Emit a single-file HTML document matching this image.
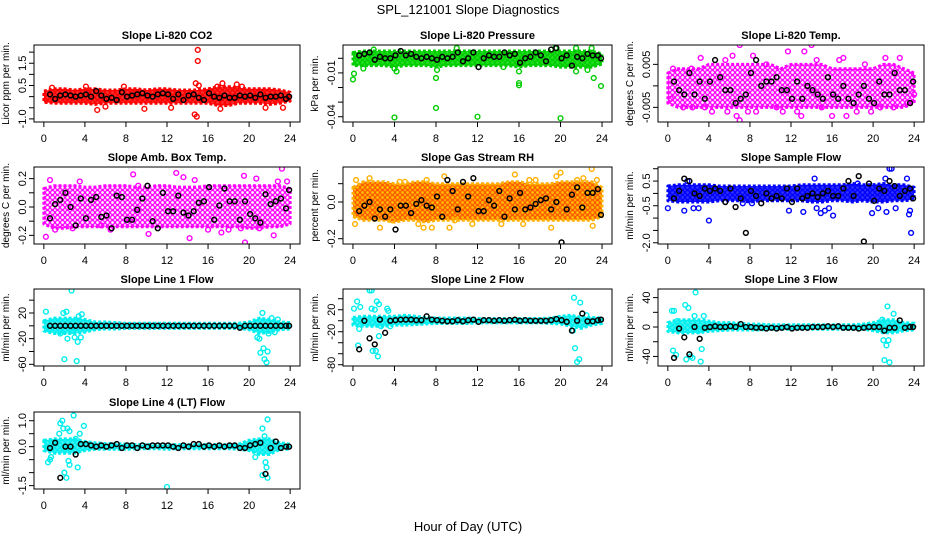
<!DOCTYPE html>
<html><head><meta charset="utf-8"><style>
html,body{margin:0;padding:0;background:#fff;}
svg{display:block;font-family:"Liberation Sans",Arial,sans-serif;}
</style></head><body>
<svg id="chart" width="936" height="540" viewBox="0 0 936 540" xmlns="http://www.w3.org/2000/svg">
<defs id="defs"></defs>
<text x="468" y="14" text-anchor="middle" font-size="13">SPL_121001  Slope Diagnostics</text>
<text x="468" y="531" text-anchor="middle" font-size="13">Hour of Day (UTC)</text>
</svg>
<script>
const xTicks=[0,4,8,12,16,20,24];
const blackHours=[0.6,1.1,1.6,2.1,2.6,3.1,3.6,4.1,4.6,5.1,5.6,6.1,6.6,7.1,7.6,8.1,8.6,9.1,9.6,10.1,10.6,11.1,11.6,12.1,12.6,13.1,13.6,14.1,14.6,15.1,15.6,16.1,16.6,17.1,17.6,18.1,18.6,19.1,19.6,20.1,20.6,21.1,21.6,22.1,22.6,23.1,23.6,23.9];
const bandHours=[0,1,2,3,4,5,6,7,8,9,10,11,12,13,14,15,16,17,18,19,20,21,22,23,24];

// Panel 1: CO2
const co2Lo=[-0.25,-0.3,-0.3,-0.3,-0.3,-0.35,-0.3,-0.3,-0.3,-0.3,-0.3,-0.3,-0.3,-0.3,-0.3,-0.3,-0.3,-0.4,-0.4,-0.3,-0.3,-0.3,-0.35,-0.3,-0.2];
const co2Hi=[0.25,0.35,0.35,0.3,0.35,0.35,0.3,0.3,0.35,0.35,0.3,0.35,0.35,0.3,0.3,0.3,0.35,0.45,0.45,0.4,0.35,0.35,0.35,0.3,0.2];
const co2Pts=[[15,2.1],[15,1.6],[14.8,0.6],[15.1,0.5],[14.7,-0.8],[14.9,-0.9],[4.1,0.45],[5.2,-0.6],[17.2,-0.55],[17.4,0.6],[18.8,0.55],[0.8,0.4],[12.4,-0.5],[9.8,-0.55],[21.6,-0.5],[23.3,-0.5],[7.8,0.45],[16.9,0.45],[6,-0.45],[19.3,0.45]];
const co2Blk=[0.1,-0.1,0.05,0.1,0.05,0,0.05,0.1,0,0.25,0.05,-0.1,-0.05,-0.15,0.2,0,0.05,0.1,0.15,0.05,0,0.1,0.15,0.1,-0.1,0.1,-0.15,0.05,0.1,-0.05,-0.15,0.15,0,-0.05,0.05,-0.05,-0.05,0.05,0,0.05,-0.05,0.1,-0.05,0,0,0.05,-0.1,0];

// Panel 2: Pressure
const presLo=[-0.005,-0.005,-0.005,-0.005,-0.006,-0.005,-0.005,-0.005,-0.006,-0.005,-0.005,-0.005,-0.005,-0.005,-0.005,-0.005,-0.006,-0.005,-0.005,-0.005,-0.006,-0.006,-0.006,-0.006,-0.004];
const presHi=[0.004,0.005,0.005,0.005,0.005,0.005,0.005,0.005,0.005,0.005,0.005,0.005,0.005,0.005,0.005,0.005,0.005,0.005,0.005,0.005,0.005,0.005,0.005,0.005,0.003];
const presPts=[[0,-0.0145],[0.1,-0.0105],[4,-0.0405],[4,-0.007],[4.2,-0.009],[8,-0.034],[8,-0.0135],[8.1,-0.008],[12,-0.04],[16,-0.017],[16,-0.0185],[16,-0.009],[20,-0.041],[23.2,-0.0135],[23.9,-0.019],[21.5,-0.009],[22.6,-0.008],[10,0.007],[19.5,0.007],[21.5,0.007],[23,0.007],[2,0.006],[1,-0.007],[14.5,-0.006]];
const presBlk=[0.002,0.003,0.004,-0.001,0.001,0,0,0.002,0.005,0.002,0.003,0.001,0,0.001,0,-0.001,0.001,0,0.001,0.004,-0.002,0,0.004,-0.006,0,0.002,0.001,0.001,0.004,0.002,0.003,-0.003,0,0.001,0.004,0.002,-0.002,0.006,0.007,0,0.002,-0.005,0.001,0,0.003,0.002,0.002,0];

// Panel 3: Li-820 Temp
const ltLo=[-0.004,-0.005,-0.005,-0.005,-0.005,-0.005,-0.005,-0.005,-0.005,-0.005,-0.005,-0.005,-0.005,-0.005,-0.005,-0.005,-0.005,-0.005,-0.005,-0.005,-0.005,-0.005,-0.005,-0.005,-0.004];
const ltHi=[0.003,0.004,0.004,0.004,0.005,0.005,0.005,0.005,0.005,0.005,0.005,0.004,0.005,0.005,0.005,0.005,0.004,0.004,0.004,0.004,0.004,0.005,0.005,0.004,0.003];
const ltPts=[[0.3,-0.003],[0.5,0.004],[1.5,-0.005],[2.3,0.004],[2.4,-0.005],[3.2,0.0065],[3.6,-0.005],[4.3,-0.006],[5.6,0.006],[5.8,-0.006],[6.3,0.007],[6.7,-0.007],[7,0.0095],[7,-0.008],[7.8,-0.006],[8.3,0.007],[8.6,-0.006],[9.6,0.005],[10.6,-0.005],[11.2,-0.006],[11.7,0.008],[12.6,-0.006],[13,-0.007],[13.3,0.008],[14,0.0095],[14.5,0.006],[15,-0.005],[16,-0.007],[16.7,0.006],[17.1,0.0065],[17.4,-0.007],[18.4,-0.006],[19.2,0.005],[19.8,-0.006],[20.7,-0.005],[21.2,0.0065],[22,-0.005],[22.6,0.0065],[23.3,-0.004],[24,-0.002]];
const ltBlk=[0.001,-0.001,-0.002,0.003,-0.002,0.001,-0.003,0.001,0.006,0.002,-0.001,-0.001,-0.004,-0.003,-0.002,0.003,0.006,0,0.001,0.001,0.002,-0.001,-0.001,-0.003,0.001,-0.003,0,-0.001,-0.002,-0.003,0.002,-0.002,-0.003,0,-0.003,-0.004,-0.002,0,-0.003,-0.004,0.001,-0.002,-0.002,0.003,-0.001,-0.001,-0.004,0.001];

// Panel 4: Amb Box Temp
const abLo=[-0.12,-0.15,-0.15,-0.14,-0.14,-0.14,-0.14,-0.14,-0.14,-0.14,-0.14,-0.14,-0.14,-0.14,-0.14,-0.14,-0.14,-0.14,-0.14,-0.14,-0.15,-0.15,-0.14,-0.14,-0.12];
const abHi=[0.13,0.15,0.15,0.15,0.14,0.14,0.15,0.15,0.15,0.14,0.14,0.15,0.15,0.14,0.14,0.14,0.15,0.15,0.15,0.15,0.15,0.15,0.15,0.15,0.13];
const abPts=[[0.2,-0.21],[0.6,0.19],[3.5,0.18],[5.6,-0.13],[6.5,-0.16],[8.7,0.23],[10.2,-0.19],[12.9,0.24],[13.6,0.21],[14.2,-0.22],[14.7,0.19],[17.3,-0.18],[18,-0.16],[19.2,-0.15],[19.5,0.22],[19.6,-0.25],[20.7,0.2],[21,-0.15],[22.4,-0.2],[22.8,0.18],[23.2,0.27],[23.7,0.18],[1.1,-0.16],[2.8,-0.15],[9.2,0.15],[16,-0.16]];
const abBlk=[-0.08,0.02,0.05,0.1,0,-0.13,0.06,-0.08,0.05,0.07,-0.07,-0.06,-0.15,0.08,0.07,-0.09,-0.09,-0.02,0.06,0.15,-0.1,-0.15,0.1,-0.03,-0.03,0.08,-0.04,-0.06,-0.03,0.03,0.04,0.14,-0.09,0.01,0.13,0.04,0.04,-0.09,0.04,-0.05,-0.08,-0.11,0.09,0.02,0.04,0.06,-0.01,0.12];

// Panel 5: Gas Stream RH
const rhLo=[-0.08,-0.1,-0.1,-0.1,-0.11,-0.1,-0.1,-0.11,-0.1,-0.1,-0.1,-0.1,-0.1,-0.1,-0.1,-0.1,-0.1,-0.1,-0.1,-0.1,-0.1,-0.1,-0.1,-0.1,-0.08];
const rhHi=[0.08,0.11,0.11,0.11,0.1,0.1,0.11,0.11,0.1,0.1,0.1,0.1,0.1,0.1,0.1,0.11,0.11,0.1,0.1,0.1,0.11,0.11,0.11,0.11,0.08];
const rhPts=[[0.3,0.12],[0.2,-0.12],[1.6,0.13],[2.6,-0.14],[3.8,-0.1],[4.5,0.11],[5,0.11],[6.3,-0.12],[6.8,-0.14],[7.1,0.12],[7.6,-0.14],[8.8,0.14],[9.3,-0.14],[9.8,-0.1],[11.5,-0.12],[14.3,-0.12],[15.6,0.15],[16.4,-0.12],[17,0.12],[17.6,0.12],[19.1,-0.14],[19.6,0.14],[20,0.16],[21.6,0.12],[22.2,0.13],[23,0.18],[23.1,-0.13],[23.5,0.12]];
const rhBlk=[-0.05,-0.02,0,-0.09,-0.04,-0.08,-0.04,-0.15,-0.02,-0.02,-0.06,-0.01,0.01,-0.02,-0.03,0.03,-0.08,0.12,0.06,-0.04,0.11,0.03,0.13,-0.05,-0.05,0.01,-0.02,0.06,-0.08,0.02,-0.04,0.05,-0.04,-0.03,-0.01,0.01,0.02,-0.04,0,-0.22,-0.04,0.04,0.08,-0.03,0.05,0.05,0.07,-0.07];

// Panel 6: Sample Flow
const sfLo=[-0.3,-0.35,-0.35,-0.35,-0.35,-0.3,-0.3,-0.3,-0.35,-0.3,-0.3,-0.3,-0.3,-0.3,-0.35,-0.35,-0.3,-0.3,-0.35,-0.3,-0.35,-0.35,-0.3,-0.3,-0.25];
const sfHi=[0.3,0.35,0.35,0.35,0.35,0.3,0.3,0.3,0.3,0.3,0.3,0.3,0.3,0.35,0.35,0.35,0.35,0.35,0.4,0.35,0.35,0.4,0.35,0.35,0.25];
const sfPts=[[0,-0.6],[1.6,-0.7],[1.9,0.5],[2.5,-0.6],[3,-0.6],[4,-1.1],[7.3,-0.4],[8.2,-0.4],[11.8,-0.7],[13.2,-0.75],[14.3,0.6],[14.5,-0.6],[14.9,-0.8],[15.3,-0.7],[15.7,-0.6],[16.1,-0.9],[18.5,0.4],[19.9,-0.8],[20.5,-0.6],[21.2,0.6],[21.3,-0.75],[21.6,1.0],[21.8,1.0],[22.2,-0.6],[23.3,0.6],[23.5,-0.85],[23.7,-1.6],[23.6,-0.7]];
const sfBlk=[-0.2,0.1,0.6,0.5,0,-0.1,0.2,0.1,0.2,0.1,-0.35,0.2,-0.55,-0.2,-1.6,0.1,-0.1,-0.4,0,-0.2,-0.1,-0.2,0.2,-0.35,0.2,-0.2,-0.1,0,-0.15,0,0.1,-0.1,-0.1,0.2,0.5,-0.1,0.7,-1.95,0.4,-0.3,0.2,0.1,0.5,0.3,-0.1,0.1,0.2,-0.2];

// Panel 7: Line 1 Flow
const l1Lo=[-8,-12,-12,-12,-10,-6,-5,-5,-4,-4,-4,-4,-4,-4,-4,-4,-4,-4,-4,-4,-6,-12,-10,-6,-5];
const l1Hi=[8,12,12,12,10,6,6,5,4,4,4,4,4,4,4,4,4,4,4,4,6,12,10,6,5];
const l1Pts=[[0.2,22],[0.5,-6],[1.6,-12],[1.9,20],[2,-52],[2.2,22],[2.3,-20],[2.7,55],[2.8,-8],[3,-18],[3.2,-55],[3.3,-25],[3.4,15],[3.6,-18],[3.7,18],[20.8,-18],[21,-20],[21.1,-42],[21.3,20],[21.4,-35],[21.5,-52],[21.7,-57],[21.8,-40],[21.9,-12],[22.2,12],[22.5,-10],[22.8,10]];
const l1Blk=[0,0,0,0,0,0,0,0,0,0,0,0,0,0,0,0,0,0,0,0,0,0,0,0,0,0,0,0,0,0,0,0,0,0,0,0,0,-3,0,0,0,0,0,0,0,0,0,0];

// Panel 8: Line 2 Flow
const l2Lo=[-8,-10,-10,-10,-8,-8,-7,-6,-5,-5,-5,-5,-4,-4,-4,-4,-4,-4,-4,-5,-6,-10,-14,-8,-5];
const l2Hi=[6,8,8,8,8,10,8,6,5,5,5,5,4,4,4,4,4,4,4,5,8,10,6,6,5];
const l2Pts=[[0.1,22],[0.4,35],[0.5,-45],[0.6,-15],[0.7,25],[1.6,55],[1.8,55],[1.8,22],[1.9,-55],[2.1,20],[2.2,-55],[2.3,35],[2.4,-65],[2.5,30],[2.5,-28],[2.7,-10],[3.3,22],[3.4,18],[3.6,-10],[21.3,42],[21.4,-50],[21.6,-75],[21.8,-70],[21.9,33],[21.2,-18],[22.5,10]];
const l2Blk=[-52,0,-32,-43,2,-22,0,1,2,2,2,1,1,8,2,1,0,-1,-1,1,-1,1,2,-2,1,1,0,1,0,1,2,0,1,0,0,0,0,1,3,1,-2,-18,0,13,-1,-1,1,2];

// Panel 9: Line 3 Flow
const l3Lo=[-6,-8,-8,-8,-6,-5,-4,-4,-4,-4,-3,-3,-3,-3,-3,-3,-3,-3,-3,-3,-5,-8,-8,-5,-4];
const l3Hi=[6,10,10,10,8,6,6,5,4,4,3,3,3,3,3,3,3,3,3,4,6,10,10,6,5];
const l3Pts=[[0.4,22],[0.5,-32],[0.6,22],[0.8,-38],[0.9,8],[1.7,30],[1.8,-44],[2,26],[2.2,-40],[2.4,-42],[2.6,15],[2.7,47],[3,-5],[3.2,-47],[3.3,-30],[3.5,15],[21,-18],[21.1,-45],[21.3,-25],[21.4,28],[21.5,-18],[21.6,-48],[22,18],[20.9,10]];
const l3Blk=[-42,-2,-14,-37,0,-16,-1,0,1,0,0,1,0,4,0,0,-1,-1,-2,-1,-2,-1,0,-2,-1,-1,-1,0,0,0,1,0,1,-1,-1,-1,-2,-1,0,0,0,-5,-1,-1,9,-1,0,0];

// Panel 10: Line 4 (LT) Flow
const l4Lo=[-0.15,-0.25,-0.25,-0.25,-0.15,-0.1,-0.1,-0.1,-0.1,-0.08,-0.08,-0.08,-0.1,-0.08,-0.08,-0.08,-0.08,-0.08,-0.08,-0.1,-0.15,-0.3,-0.3,-0.1,-0.1];
const l4Hi=[0.25,0.3,0.3,0.3,0.2,0.15,0.12,0.12,0.1,0.08,0.08,0.08,0.08,0.08,0.08,0.08,0.08,0.08,0.08,0.1,0.25,0.3,0.3,0.15,0.1];
const l4Pts=[[0.4,-0.6],[0.6,-0.5],[0.7,-0.4],[1.5,0.5],[1.6,0.9],[1.8,1.0],[1.9,0.7],[2,-1.0],[2.2,-1.2],[2.3,0.7],[2.4,-0.55],[2.5,-0.7],[2.5,0.6],[2.9,1.2],[3.1,0.3],[3.3,-0.8],[3.5,0.5],[3.9,0.8],[12,-1.55],[21.3,0.7],[21.3,-1.1],[21.5,0.4],[21.6,-0.6],[21.7,-0.8],[21.8,1.05],[21.8,-1.2],[20.6,-0.4]];
const l4Blk=[-0.05,0.15,-1.2,0,0,-0.3,0.1,0.1,0.05,0,0.05,0,0.05,0.1,-0.05,0.05,0.05,-0.05,0.05,0,0.05,0.05,0.05,0.05,0,-0.05,0.05,0,0.1,0.1,0,0.05,0,0.05,0,0.05,0.05,-0.05,-0.05,0.05,0.1,0.15,-1.05,-0.05,0.2,-0.05,0,0];

const NS='http://www.w3.org/2000/svg';
const svg=document.getElementById('chart');
const defs=document.getElementById('defs');
function mk(tag,attrs,parent){const e=document.createElementNS(NS,tag);for(const k in attrs)e.setAttribute(k,attrs[k]);(parent||svg).appendChild(e);return e;}

const colX=[[34,300],[343,612],[658,924]];
const rowY=[45,167,289,412];
const BH=77;
const panels=[
 {name:'co2',title:'Slope Li-820 CO2',ylab:'Licor ppm per min.',col:0,row:0,ymin:-1.14,ymax:2.32,ticks:[-1,-0.5,0,0.5,1,1.5,2],labels:[[-1,'-1.0'],[0.5,'0.5'],[1.5,'1.5']],color:'#ff0000',bg:'#ff3030',lo:co2Lo,hi:co2Hi,pts:co2Pts,blk:co2Blk},
 {name:'pressure',title:'Slope Li-820 Pressure',ylab:'kPa per min.',col:1,row:0,ymin:-0.0436,ymax:0.0091,ticks:[-0.04,-0.03,-0.02,-0.01,0],labels:[[-0.04,'-0.04'],[-0.01,'-0.01']],color:'#00cc00',bg:'#22e022',lo:presLo,hi:presHi,pts:presPts,blk:presBlk},
 {name:'li820-temp',title:'Slope Li-820 Temp.',ylab:'degrees C per min.',col:2,row:0,ymin:-0.0084,ymax:0.0095,ticks:[-0.005,0,0.005],labels:[[-0.005,'-0.005'],[0.005,'0.005']],color:'#ff00ff',bg:'#ffffff',lo:ltLo,hi:ltHi,pts:ltPts,blk:ltBlk},
 {name:'amb-box-temp',title:'Slope Amb. Box Temp.',ylab:'degrees C per min.',col:0,row:1,ymin:-0.261,ymax:0.282,ticks:[-0.2,-0.1,0,0.1,0.2],labels:[[-0.2,'-0.2'],[0,'0.0'],[0.2,'0.2']],color:'#ff00ff',bg:'#ffffff',lo:abLo,hi:abHi,pts:abPts,blk:abBlk},
 {name:'gas-stream-rh',title:'Slope Gas Stream RH',ylab:'percent per min.',col:1,row:1,ymin:-0.229,ymax:0.191,ticks:[-0.2,-0.1,0,0.1],labels:[[-0.2,'-0.2'],[0,'0.0']],color:'#ff5a00',bg:'#ffc000',lo:rhLo,hi:rhHi,pts:rhPts,blk:rhBlk,ptColor:'#ffb000'},
 {name:'sample-flow',title:'Slope Sample Flow',ylab:'ml/min per min.',col:2,row:1,ymin:-2.05,ymax:1.07,ticks:[-2,-1.5,-1,-0.5,0,0.5,1],labels:[[-2,'-2.0'],[-0.5,'-0.5'],[0.5,'0.5']],color:'#0000ff',bg:'#3030ff',lo:sfLo,hi:sfHi,pts:sfPts,blk:sfBlk},
 {name:'line1-flow',title:'Slope Line 1 Flow',ylab:'ml/min per min.',col:0,row:2,ymin:-62.6,ymax:57.4,ticks:[-60,-40,-20,0,20,40],labels:[[-60,'-60'],[-20,'-20'],[20,'20']],color:'#00eeee',bg:'#40f4f4',lo:l1Lo,hi:l1Hi,pts:l1Pts,blk:l1Blk},
 {name:'line2-flow',title:'Slope Line 2 Flow',ylab:'ml/min per min.',col:1,row:2,ymin:-82.3,ymax:57.7,ticks:[-80,-60,-40,-20,0,20,40],labels:[[-80,'-80'],[-20,'-20'],[20,'20']],color:'#00eeee',bg:'#40f4f4',lo:l2Lo,hi:l2Hi,pts:l2Pts,blk:l2Blk},
 {name:'line3-flow',title:'Slope Line 3 Flow',ylab:'ml/min per min.',col:2,row:2,ymin:-53,ymax:51.7,ticks:[-40,-20,0,20,40],labels:[[-40,'-40'],[0,'0'],[40,'40']],color:'#00eeee',bg:'#40f4f4',lo:l3Lo,hi:l3Hi,pts:l3Pts,blk:l3Blk},
 {name:'line4-flow',title:'Slope Line 4 (LT) Flow',ylab:'ml/min per min.',col:0,row:3,ymin:-1.63,ymax:1.335,ticks:[-1.5,-1,-0.5,0,0.5,1],labels:[[-1.5,'-1.5'],[0,'0.0'],[1,'1.0']],color:'#00eeee',bg:'#40f4f4',lo:l4Lo,hi:l4Hi,pts:l4Pts,blk:l4Blk}
];

panels.forEach(p=>{
 const L=colX[p.col][0],R=colX[p.col][1],T=rowY[p.row],B=T+BH;
 const xs=h=>L+(R-L)*(h+0.96)/25.92;
 const ys=v=>B-(B-T)*(v-p.ymin)/(p.ymax-p.ymin);
 const pid='pat-'+p.name;
 const pat=mk('pattern',{id:pid,width:5,height:5,patternUnits:'userSpaceOnUse'},defs);
 mk('rect',{x:0,y:0,width:5,height:5,fill:p.bg},pat);
 mk('circle',{cx:2.5,cy:2.5,r:2,fill:'none',stroke:p.color,'stroke-width':1.3},pat);
 const g=mk('g',{});
 
 
 const cid='clip-'+p.name;
 const cp=mk('clipPath',{id:cid},g);mk('rect',{x:L,y:T,width:R-L,height:B-T},cp);
 const plot=mk('g',{'clip-path':'url(#'+cid+')'},g);
 let d='';
 bandHours.forEach((h,i)=>{d+=(i?'L':'M')+xs(h).toFixed(1)+' '+ys(p.hi[i]).toFixed(1);});
 for(let i=bandHours.length-1;i>=0;i--)d+='L'+xs(bandHours[i]).toFixed(1)+' '+ys(p.lo[i]).toFixed(1);
 const band=mk('path',{d:d+'Z',fill:'url(#'+pid+')',stroke:p.ptColor||p.color,'stroke-width':3,'stroke-dasharray':'3 2','stroke-linejoin':'round'},plot);
 
 
 p.pts.forEach(pt=>{
  const c=mk('circle',{cx:xs(pt[0]),cy:ys(pt[1]),r:2.4,fill:'none',stroke:p.ptColor||p.color,'stroke-width':1.4},plot);
  
  
 });
 p.blk.forEach((v,i)=>{
  const c=mk('circle',{cx:xs(blackHours[i]),cy:ys(v),r:2.4,fill:'none',stroke:'#000','stroke-width':1.5},plot);
  
  
 });
 const box=mk('rect',{x:L,y:T,width:R-L,height:B-T,fill:'none',stroke:'#000','stroke-width':1},g);
 
 
 xTicks.forEach(t=>{
  mk('line',{x1:xs(t),x2:xs(t),y1:B,y2:B+5,stroke:'#000'},g);
  const tx=mk('text',{x:xs(t),y:B+20,'text-anchor':'middle','font-size':11},g);
  tx.textContent=t;
  
  
 });
 p.ticks.forEach(t=>{mk('line',{x1:L-5,x2:L,y1:ys(t),y2:ys(t),stroke:'#000'},g);});
 p.labels.forEach(lb=>{
  const y=ys(lb[0]);
  const tx=mk('text',{x:L-8,y:y,'text-anchor':'middle','font-size':11,transform:'rotate(-90 '+(L-8)+' '+y+')'},g);
  tx.textContent=lb[1];
  
  
 });
 const ti=mk('text',{x:(L+R)/2,y:T-6,'text-anchor':'middle','font-size':11,'font-weight':'bold'},g);
 ti.textContent=p.title;
 
 
 const yc=(T+B)/2;
 const yl=mk('text',{x:L-25,y:yc,'text-anchor':'middle','font-size':10,transform:'rotate(-90 '+(L-25)+' '+yc+')'},g);
 yl.textContent=p.ylab;
 
 
});
</script>
</body></html>
